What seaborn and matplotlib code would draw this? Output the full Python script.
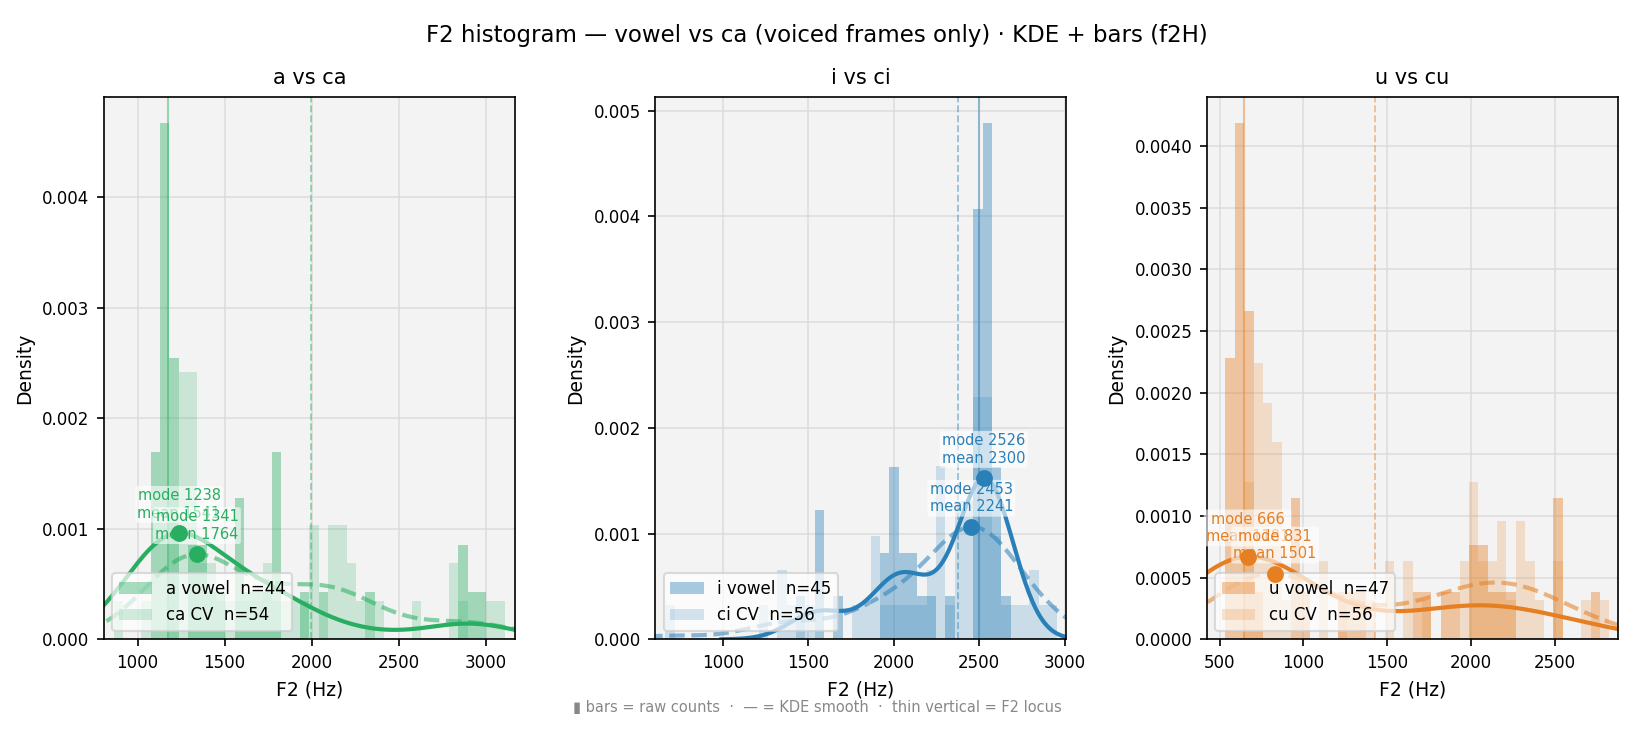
import numpy as np
import matplotlib
matplotlib.use("Agg")
import matplotlib.pyplot as plt
import seaborn as sns
from matplotlib.patches import Patch

# --- data ------------------------------------------------------------------
titles = ["a vs ca", "i vs ci", "u vs cu"]
vowel_names = ["a vowel", "i vowel", "u vowel"]
cv_names = ["ca CV", "ci CV", "cu CV"]

# histogram bins per panel: (first edge Hz, last edge Hz, number of bins)
bin_specs = [(862, 3109, 42), (609, 3011, 44), (534, 2826, 41)]

# raw counts per bin
a_counts = [0, 0, 0, 0, 4, 11, 6, 0, 2, 2,
            1, 1, 0, 3, 1, 1, 1, 4, 0, 0,
            1, 0, 1, 0, 0, 0, 0, 1, 0, 0,
            0, 0, 0, 0, 0, 0, 0, 2, 1, 1,
            0, 0]
ca_counts = [1, 0, 0, 1, 0, 0, 4, 7, 7, 2,
             2, 1, 1, 1, 1, 1, 2, 1, 1, 1,
             1, 3, 0, 3, 3, 2, 1, 0, 1, 0,
             0, 0, 1, 0, 0, 0, 2, 1, 0, 0,
             1, 1]
i_counts = [0, 0, 0, 0, 0, 0, 0, 0, 0, 0,
            0, 0, 0, 0, 0, 1, 0, 3, 0, 1,
            0, 0, 0, 0, 2, 4, 2, 2, 1, 1,
            0, 1, 0, 0, 10, 12, 4, 1, 0, 0,
            0, 0, 0, 0]
ci_counts = [0, 1, 0, 0, 0, 0, 0, 0, 0, 0,
             0, 1, 0, 2, 1, 0, 1, 0, 0, 0,
             0, 1, 1, 3, 1, 1, 1, 1, 1, 2,
             5, 1, 4, 4, 7, 7, 3, 1, 1, 1,
             2, 1, 1, 0]
u_counts = [6, 11, 7, 1, 0, 0, 0, 3, 1, 0,
            0, 0, 1, 1, 1, 0, 0, 0, 0, 0,
            1, 1, 0, 1, 1, 0, 2, 2, 1, 1,
            1, 0, 0, 0, 0, 3, 0, 0, 0, 1,
            0]
cu_counts = [0, 0, 4, 7, 6, 5, 1, 0, 0, 0,
             2, 0, 1, 0, 0, 1, 0, 2, 0, 2,
             0, 1, 0, 0, 0, 2, 4, 2, 2, 3,
             1, 3, 2, 1, 0, 2, 0, 0, 1, 0,
             1]

vowel_counts = [a_counts, i_counts, u_counts]
cv_counts = [ca_counts, ci_counts, cu_counts]

vowel_modes = [1238, 2526, 666]
vowel_means = [1541, 2300, 1181]
cv_modes = [1341, 2453, 831]
cv_means = [1764, 2241, 1501]

# F2 locus lines
vowel_locus = [1175, 2500, 644]
cv_locus = [1993, 2377, 1428]

# --- styling ----------------------------------------------------------------
colors = ["#27ae60", "#2980b9", "#e67e22"]
xlims = [(807, 3164), (605, 3008), (424, 2875)]
bw_vowel = [1.03, 0.97, 1.08]
bw_cv = [1.0, 1.08, 1.05]

fig, axes = plt.subplots(1, 3, figsize=(16.34 / 1.5, 7.32 / 1.5), dpi=150)
fig.subplots_adjust(left=0.0636, right=0.990, bottom=0.1266, top=0.8675, wspace=0.343)

for k, ax in enumerate(axes):
    col = colors[k]
    lo, hi, nb = bin_specs[k]
    edges = np.linspace(lo, hi, nb + 1)
    centers = (edges[:-1] + edges[1:]) / 2
    xv = np.repeat(centers, vowel_counts[k])
    xc = np.repeat(centers, cv_counts[k])

    ax.set_facecolor("#f3f3f3")
    ax.grid(True, color="#d9d9d9", lw=0.8, alpha=0.8)
    ax.set_axisbelow(True)

    sns.histplot(x=xv, bins=edges, stat="density", color=col, alpha=0.4,
                 linewidth=0, ax=ax)
    sns.histplot(x=xc, bins=edges, stat="density", color=col, alpha=0.2,
                 linewidth=0, ax=ax)
    ymax = max(p.get_height() for p in ax.patches) * 1.05

    sns.kdeplot(x=xv, color=col, lw=2, bw_adjust=bw_vowel[k], ax=ax)
    kde_v = ax.lines[-1]
    sns.kdeplot(x=xc, color=col, lw=2, ls="--", alpha=0.55, bw_adjust=bw_cv[k], ax=ax)
    kde_c = ax.lines[-1]

    ax.axvline(vowel_locus[k], color=col, lw=1, alpha=0.45)
    ax.axvline(cv_locus[k], color=col, lw=0.9, ls="--", alpha=0.45)

    for line, mode, mean in [(kde_v, vowel_modes[k], vowel_means[k]),
                             (kde_c, cv_modes[k], cv_means[k])]:
        y = np.interp(mode, line.get_xdata(), line.get_ydata())
        ax.scatter([mode], [y], s=50, color=col, zorder=8)
        ax.annotate(f"mode {mode}\nmean {mean}", (mode, y), xytext=(0, 6),
                    textcoords="offset points", ha="center", va="bottom",
                    fontsize=7, color=col, zorder=6,
                    bbox=dict(boxstyle="round,pad=0.15", fc="white", ec="none", alpha=0.6))

    ax.set_xlim(*xlims[k])
    ax.set_ylim(0, ymax)
    ax.set_title(titles[k], fontsize=10)
    ax.set_xlabel("F2 (Hz)", fontsize=9)
    ax.set_ylabel("Density", fontsize=9)
    ax.tick_params(labelsize=8)

    handles = [Patch(color=col, alpha=0.4, lw=0),
               Patch(color=col, alpha=0.2, lw=0)]
    labels = [f"{vowel_names[k]}  n={sum(vowel_counts[k])}",
              f"{cv_names[k]}  n={sum(cv_counts[k])}"]
    leg = ax.legend(handles, labels, loc="lower left", fontsize=8, framealpha=0.7)
    leg.set_zorder(4)

fig.suptitle("F2 histogram \u2014 vowel vs ca (voiced frames only) \u00b7 KDE + bars (f2H)",
             fontsize=11, y=0.967)
fig.text(0.5, 0.034,
         "\u25ae bars = raw counts  \u00b7  \u2014 = KDE smooth  \u00b7  thin vertical = F2 locus",
         ha="center", va="center", fontsize=7, color="#888888")

fig.savefig("out.png", dpi=150)
